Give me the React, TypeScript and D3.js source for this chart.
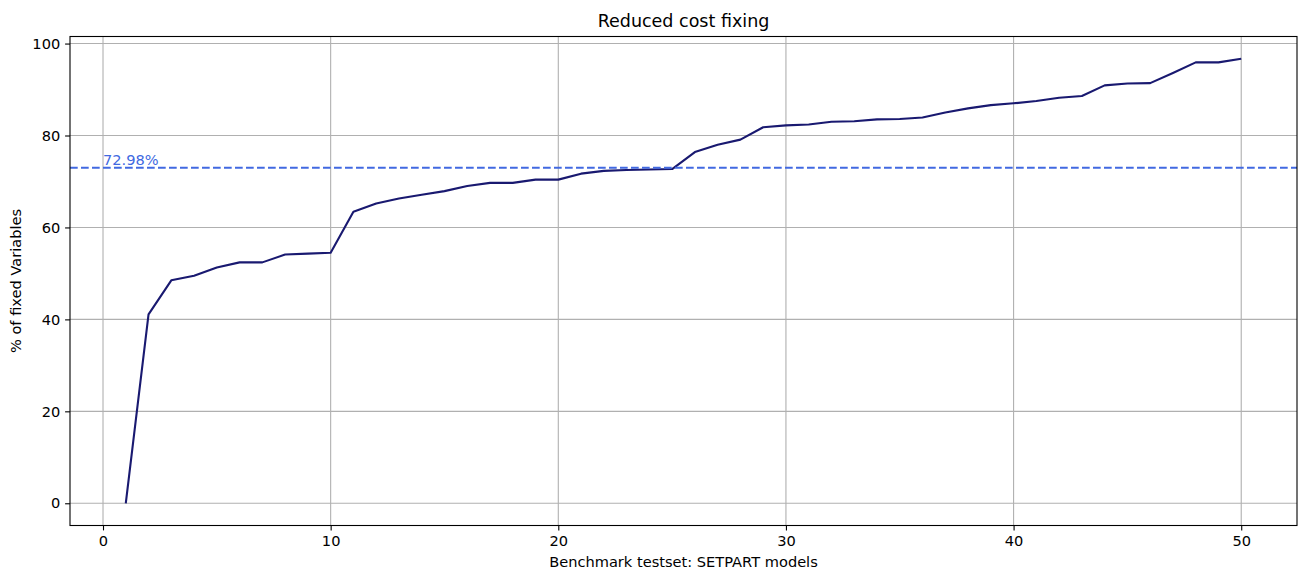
import * as d3 from "d3";
import { useEffect, useRef } from "react";

// model index on x, % of fixed variables on y
const modelIdx = d3.range(1, 51);
const fixedPct = [
  0, 41.1, 48.5, 49.5, 51.3, 52.4, 52.4, 54.1, 54.3, 54.5,
  63.4, 65.2, 66.3, 67.1, 67.9, 69.0, 69.7, 69.7, 70.4, 70.4,
  71.7, 72.3, 72.5, 72.6, 72.7, 76.4, 78.0, 79.1, 81.8, 82.2,
  82.4, 83.0, 83.1, 83.5, 83.6, 83.9, 85.0, 85.9, 86.6, 87.0,
  87.5, 88.2, 88.6, 90.9, 91.3, 91.4, 93.6, 95.9, 95.9, 96.7,
];
const refValue = 72.98;
const xTicks = [0, 10, 20, 30, 40, 50];
const yTicks = [0, 20, 40, 60, 80, 100];

export default function App() {
  const ref = useRef<SVGSVGElement>(null);

  useEffect(() => {
    const svg = d3.select(ref.current);
    svg.selectAll("*").remove();

    const left = 70, right = 1297, top = 36.5, bottom = 525.5;
    const font = "DejaVu Sans, sans-serif";
    const fs = 14.6;

    // matplotlib style 5% margins
    const xMin = 1, xMax = 50;
    const xPad = (xMax - xMin) * 0.05;
    const x = d3.scaleLinear().domain([xMin - xPad, xMax + xPad]).range([left, right]);
    const yMax = d3.max(fixedPct) as number;
    const yPad = yMax * 0.05;
    const y = d3.scaleLinear().domain([-yPad, yMax + yPad]).range([bottom, top]);

    const g = svg.append("g");

    // grid
    g.selectAll(".vgrid").data(xTicks).enter().append("line")
      .attr("x1", d => x(d)).attr("x2", d => x(d))
      .attr("y1", top).attr("y2", bottom)
      .attr("stroke", "#b0b0b0").attr("stroke-width", 1.1);
    g.selectAll(".hgrid").data(yTicks).enter().append("line")
      .attr("x1", left).attr("x2", right)
      .attr("y1", d => y(d)).attr("y2", d => y(d))
      .attr("stroke", "#b0b0b0").attr("stroke-width", 1.1);

    // data line
    g.append("path")
      .datum(fixedPct)
      .attr("fill", "none")
      .attr("stroke", "#191970")
      .attr("stroke-width", 2.1)
      .attr("stroke-linejoin", "round")
      .attr("d", d3.line<number>()
        .x((d, i) => x(modelIdx[i]))
        .y(d => y(d)));

    // reference line + label
    g.append("line")
      .attr("x1", left).attr("x2", right)
      .attr("y1", y(refValue)).attr("y2", y(refValue))
      .attr("stroke", "#4169e1").attr("stroke-width", 2.1)
      .attr("stroke-dasharray", "7.7,3.3");
    g.append("text")
      .attr("x", x(0)).attr("y", y(refValue) - 3)
      .attr("fill", "#4169e1")
      .attr("font-family", font).attr("font-size", fs)
      .text(refValue.toFixed(2) + "%");

    // axes
    const xAxis = g.append("g").attr("transform", `translate(0,${bottom})`)
      .call(d3.axisBottom(x).tickValues(xTicks).tickSize(4.9).tickPadding(4.9).tickSizeOuter(0));
    const yAxis = g.append("g").attr("transform", `translate(${left},0)`)
      .call(d3.axisLeft(y).tickValues(yTicks).tickSize(4.9).tickPadding(4.9).tickSizeOuter(0));
    [xAxis, yAxis].forEach(a => {
      a.select(".domain").remove();
      a.selectAll("line").attr("stroke", "#000").attr("stroke-width", 1.1);
      a.selectAll("text").attr("font-family", font).attr("font-size", fs).attr("fill", "#000");
    });

    // frame
    g.append("rect")
      .attr("x", left).attr("y", top)
      .attr("width", right - left).attr("height", bottom - top)
      .attr("fill", "none").attr("stroke", "#000").attr("stroke-width", 1.1);

    // titles
    svg.append("text")
      .attr("x", (left + right) / 2).attr("y", 27)
      .attr("text-anchor", "middle")
      .attr("font-family", font).attr("font-size", 17.5)
      .text("Reduced cost fixing");
    svg.append("text")
      .attr("x", (left + right) / 2).attr("y", 567)
      .attr("text-anchor", "middle")
      .attr("font-family", font).attr("font-size", fs)
      .text("Benchmark testset: SETPART models");
    svg.append("text")
      .attr("transform", `translate(21,${(top + bottom) / 2}) rotate(-90)`)
      .attr("text-anchor", "middle")
      .attr("font-family", font).attr("font-size", fs)
      .text("% of fixed Variables");
  }, []);

  return (
    <svg ref={ref} width={1299} height={572}
      style={{ position: "absolute", left: 0, top: 0, background: "#fff" }} />
  );
}
